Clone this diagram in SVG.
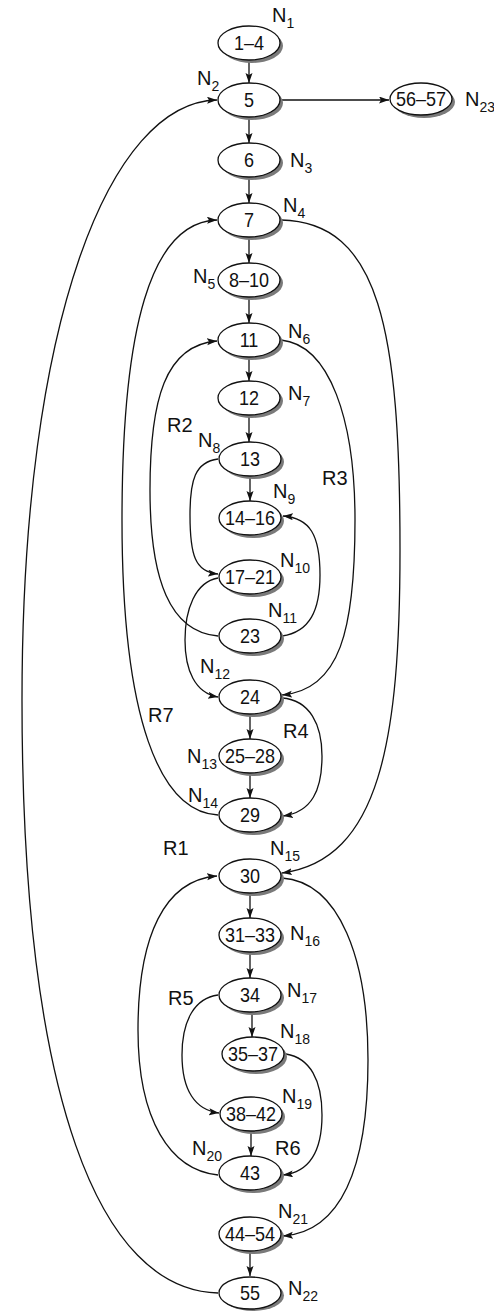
<svg xmlns="http://www.w3.org/2000/svg" width="494" height="1311" viewBox="0 0 494 1311">
<defs>
<style>
.sh{fill:#7a7a7a;stroke:none}
.nd{fill:#fff;stroke:#111;stroke-width:1.3}
.t{font-family:"Liberation Sans",Arial,sans-serif;font-size:20px;fill:#111;text-anchor:middle}
.l{font-family:"Liberation Sans",Arial,sans-serif;font-size:20px;fill:#111}
.s{font-size:14px}
.e{fill:none;stroke:#111;stroke-width:1.3;marker-end:url(#ah)}
</style>
<marker id="ah" markerUnits="userSpaceOnUse" markerWidth="11" markerHeight="8" refX="10" refY="3.5" orient="auto">
<path d="M0,0 L10,3.5 L0,7 L2,3.5 z" fill="#111"/>
</marker>
</defs>
<rect width="494" height="1311" fill="#fff"/>

<g id="connectors">
<path class="e" d="M249,60 V83"/>
<path class="e" d="M281,100 H389"/>
<path class="e" d="M249,117 V143"/>
<path class="e" d="M249,177 V203"/>
<path class="e" d="M249,237 V263"/>
<path class="e" d="M249,297 V323"/>
<path class="e" d="M249,357 V381"/>
<path class="e" d="M249,415 V442"/>
<path class="e" d="M250,476 V501"/>
<path class="e" d="M250,714 V739"/>
<path class="e" d="M250,773 V798"/>
<path class="e" d="M250,893 V918"/>
<path class="e" d="M250,952 V978"/>
<path class="e" d="M252,1012 V1037"/>
<path class="e" d="M251,1131 V1156"/>
<path class="e" d="M250,1251 V1276"/>
<path class="e" d="M218,1293 C100,1290 22,1100 22,700 C22,320 110,102 217,100"/>
<path class="e" d="M218,815 C160,812 122,720 122,520 C122,330 150,222 217,220"/>
<path class="e" d="M281,220 C380,222 400,330 400,550 C400,740 380,860 282,873"/>
<path class="e" d="M281,340 C330,345 355,420 355,520 C355,630 340,690 282,695"/>
<path class="e" d="M218,636 C170,632 150,580 150,490 C150,400 165,345 217,341"/>
<path class="e" d="M218,459 C195,462 190,480 190,515 C190,555 195,572 218,574"/>
<path class="e" d="M282,636 C310,632 320,610 320,575 C320,535 310,518 283,516"/>
<path class="e" d="M218,578 C195,582 185,610 185,640 C185,670 195,693 218,697"/>
<path class="e" d="M282,698 C310,700 322,725 322,756 C322,790 312,812 283,816"/>
<path class="e" d="M218,1175 C170,1170 138,1120 138,1030 C138,935 165,880 217,876"/>
<path class="e" d="M218,995 C195,998 182,1020 182,1055 C182,1090 195,1110 219,1113"/>
<path class="e" d="M286,1054 C310,1058 322,1080 322,1115 C322,1150 310,1172 283,1175"/>
<path class="e" d="M282,878 C340,882 368,960 368,1060 C368,1170 340,1232 283,1236"/>
</g>

<g id="n1"><ellipse class="sh" cx="252" cy="46" rx="31" ry="17"/><ellipse class="nd" cx="249" cy="43" rx="31" ry="17"/><text class="t" transform="translate(249,50) scale(0.9,1)">1–4</text></g>
<g id="n2"><ellipse class="sh" cx="252" cy="103" rx="31" ry="17"/><ellipse class="nd" cx="249" cy="100" rx="31" ry="17"/><text class="t" transform="translate(249,107) scale(0.9,1)">5</text></g>
<g id="n3"><ellipse class="sh" cx="252" cy="163" rx="31" ry="17"/><ellipse class="nd" cx="249" cy="160" rx="31" ry="17"/><text class="t" transform="translate(249,167) scale(0.9,1)">6</text></g>
<g id="n4"><ellipse class="sh" cx="252" cy="223" rx="31" ry="17"/><ellipse class="nd" cx="249" cy="220" rx="31" ry="17"/><text class="t" transform="translate(249,227) scale(0.9,1)">7</text></g>
<g id="n5"><ellipse class="sh" cx="252" cy="283" rx="31" ry="17"/><ellipse class="nd" cx="249" cy="280" rx="31" ry="17"/><text class="t" transform="translate(249,287) scale(0.9,1)">8–10</text></g>
<g id="n6"><ellipse class="sh" cx="252" cy="343" rx="31" ry="17"/><ellipse class="nd" cx="249" cy="340" rx="31" ry="17"/><text class="t" transform="translate(249,347) scale(0.9,1)">11</text></g>
<g id="n7"><ellipse class="sh" cx="252" cy="401" rx="31" ry="17"/><ellipse class="nd" cx="249" cy="398" rx="31" ry="17"/><text class="t" transform="translate(249,405) scale(0.9,1)">12</text></g>
<g id="n8"><ellipse class="sh" cx="253" cy="462" rx="31" ry="17"/><ellipse class="nd" cx="250" cy="459" rx="31" ry="17"/><text class="t" transform="translate(250,466) scale(0.9,1)">13</text></g>
<g id="n9"><ellipse class="sh" cx="253" cy="521" rx="31" ry="17"/><ellipse class="nd" cx="250" cy="518" rx="31" ry="17"/><text class="t" transform="translate(250,525) scale(0.9,1)">14–16</text></g>
<g id="n10"><ellipse class="sh" cx="253" cy="580" rx="31" ry="17"/><ellipse class="nd" cx="250" cy="577" rx="31" ry="17"/><text class="t" transform="translate(250,584) scale(0.9,1)">17–21</text></g>
<g id="n11"><ellipse class="sh" cx="253" cy="639" rx="31" ry="17"/><ellipse class="nd" cx="250" cy="636" rx="31" ry="17"/><text class="t" transform="translate(250,643) scale(0.9,1)">23</text></g>
<g id="n12"><ellipse class="sh" cx="253" cy="700" rx="31" ry="17"/><ellipse class="nd" cx="250" cy="697" rx="31" ry="17"/><text class="t" transform="translate(250,704) scale(0.9,1)">24</text></g>
<g id="n13"><ellipse class="sh" cx="253" cy="759" rx="31" ry="17"/><ellipse class="nd" cx="250" cy="756" rx="31" ry="17"/><text class="t" transform="translate(250,763) scale(0.9,1)">25–28</text></g>
<g id="n14"><ellipse class="sh" cx="253" cy="818" rx="31" ry="17"/><ellipse class="nd" cx="250" cy="815" rx="31" ry="17"/><text class="t" transform="translate(250,822) scale(0.9,1)">29</text></g>
<g id="n15"><ellipse class="sh" cx="253" cy="879" rx="31" ry="17"/><ellipse class="nd" cx="250" cy="876" rx="31" ry="17"/><text class="t" transform="translate(250,883) scale(0.9,1)">30</text></g>
<g id="n16"><ellipse class="sh" cx="253" cy="938" rx="31" ry="17"/><ellipse class="nd" cx="250" cy="935" rx="31" ry="17"/><text class="t" transform="translate(250,942) scale(0.9,1)">31–33</text></g>
<g id="n17"><ellipse class="sh" cx="253" cy="998" rx="31" ry="17"/><ellipse class="nd" cx="250" cy="995" rx="31" ry="17"/><text class="t" transform="translate(250,1002) scale(0.9,1)">34</text></g>
<g id="n18"><ellipse class="sh" cx="256" cy="1057" rx="31" ry="17"/><ellipse class="nd" cx="253" cy="1054" rx="31" ry="17"/><text class="t" transform="translate(253,1061) scale(0.9,1)">35–37</text></g>
<g id="n19"><ellipse class="sh" cx="254" cy="1117" rx="31" ry="17"/><ellipse class="nd" cx="251" cy="1114" rx="31" ry="17"/><text class="t" transform="translate(251,1121) scale(0.9,1)">38–42</text></g>
<g id="n20"><ellipse class="sh" cx="253" cy="1176" rx="31" ry="17"/><ellipse class="nd" cx="250" cy="1173" rx="31" ry="17"/><text class="t" transform="translate(250,1180) scale(0.9,1)">43</text></g>
<g id="n21"><ellipse class="sh" cx="253" cy="1237" rx="31" ry="17"/><ellipse class="nd" cx="250" cy="1234" rx="31" ry="17"/><text class="t" transform="translate(250,1241) scale(0.9,1)">44–54</text></g>
<g id="n22"><ellipse class="sh" cx="253" cy="1295.5" rx="31" ry="15.5"/><ellipse class="nd" cx="250" cy="1293" rx="31" ry="16"/><text class="t" transform="translate(250,1300) scale(0.9,1)">55</text></g>
<g id="n23"><ellipse class="sh" cx="424" cy="102" rx="31" ry="16"/><ellipse class="nd" cx="421" cy="99" rx="31" ry="16"/><text class="t" transform="translate(421,106) scale(0.9,1)">56–57</text></g>

<g id="labels">
<text class="l" x="272" y="22">N<tspan class="s" dy="6">1</tspan></text>
<text class="l" x="197" y="85">N<tspan class="s" dy="6">2</tspan></text>
<text class="l" x="290" y="167">N<tspan class="s" dy="6">3</tspan></text>
<text class="l" x="283" y="212">N<tspan class="s" dy="6">4</tspan></text>
<text class="l" x="193" y="283">N<tspan class="s" dy="6">5</tspan></text>
<text class="l" x="288" y="338">N<tspan class="s" dy="6">6</tspan></text>
<text class="l" x="288" y="400">N<tspan class="s" dy="6">7</tspan></text>
<text class="l" x="198" y="447">N<tspan class="s" dy="6">8</tspan></text>
<text class="l" x="273" y="498">N<tspan class="s" dy="6">9</tspan></text>
<text class="l" x="280" y="567">N<tspan class="s" dy="6">10</tspan></text>
<text class="l" x="268" y="617">N<tspan class="s" dy="6">11</tspan></text>
<text class="l" x="200" y="673">N<tspan class="s" dy="6">12</tspan></text>
<text class="l" x="187" y="763">N<tspan class="s" dy="6">13</tspan></text>
<text class="l" x="188" y="802">N<tspan class="s" dy="6">14</tspan></text>
<text class="l" x="270" y="855">N<tspan class="s" dy="6">15</tspan></text>
<text class="l" x="290" y="940">N<tspan class="s" dy="6">16</tspan></text>
<text class="l" x="287" y="997">N<tspan class="s" dy="6">17</tspan></text>
<text class="l" x="280" y="1038">N<tspan class="s" dy="6">18</tspan></text>
<text class="l" x="282" y="1103">N<tspan class="s" dy="6">19</tspan></text>
<text class="l" x="192" y="1155">N<tspan class="s" dy="6">20</tspan></text>
<text class="l" x="278" y="1218">N<tspan class="s" dy="6">21</tspan></text>
<text class="l" x="288" y="1295">N<tspan class="s" dy="6">22</tspan></text>
<text class="l" x="465" y="106">N<tspan class="s" dy="6">23</tspan></text>
<text class="l" x="167" y="432">R2</text>
<text class="l" x="322" y="485">R3</text>
<text class="l" x="148" y="722">R7</text>
<text class="l" x="283" y="738">R4</text>
<text class="l" x="163" y="855">R1</text>
<text class="l" x="168" y="1005">R5</text>
<text class="l" x="275" y="1155">R6</text>
</g>
</svg>
